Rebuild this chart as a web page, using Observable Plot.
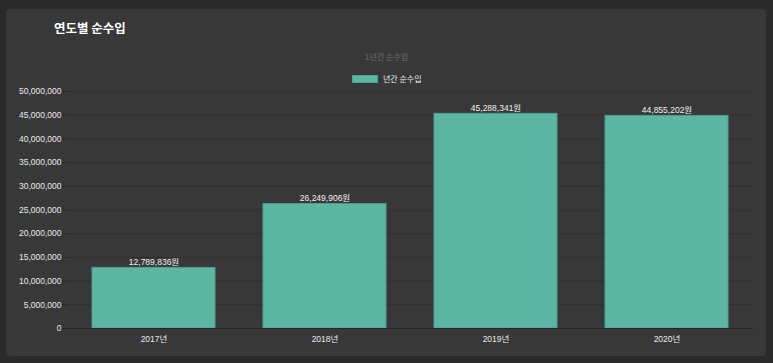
<!DOCTYPE html>
<html><head><meta charset="utf-8">
<script src="https://cdn.jsdelivr.net/npm/d3@7"></script>
<script src="https://cdn.jsdelivr.net/npm/@observablehq/plot@0.6"></script>
<style>
html,body{margin:0;padding:0;background:#2a2a2a;width:773px;height:363px;overflow:hidden;font-family:"Liberation Sans","Noto Sans CJK KR",sans-serif;}
#card{position:absolute;left:6px;top:9px;width:760px;height:347px;background:#383838;border-radius:4px;}
#title{position:absolute;left:54px;top:18px;color:#fff;font-size:12.5px;font-weight:bold;font-family:"Noto Sans CJK KR",sans-serif;}
#sub{position:absolute;left:0;width:773px;top:51px;text-align:center;color:#5e5e5e;font-size:8px;font-weight:bold;font-family:"Noto Sans CJK KR",sans-serif;}
#legend{position:absolute;left:352px;top:73px;display:flex;align-items:center;color:#eee;font-size:8px;font-family:"Noto Sans CJK KR",sans-serif;}
#legend .sw{width:26px;height:8px;background:#5db5a4;border:1px solid #4d9f90;margin-right:5px;box-sizing:border-box;}
#chart{position:absolute;left:0;top:0;}
</style></head>
<body>
<div id="card"></div>
<div id="title">연도별 순수입</div>
<div id="sub">1년간 순수입</div>
<div id="legend"><div class="sw"></div><span>년간 순수입</span></div>
<div id="chart"></div>
<script>
const years = ["2017년", "2018년", "2019년", "2020년"];
const income = [12789836, 26249906, 45288341, 44855202];
const yTicks = [0, 5000000, 10000000, 15000000, 20000000, 25000000, 30000000, 35000000, 40000000, 45000000, 50000000];
const seriesName = "년간 순수입";

const data = years.map((y, i) => ({year: y, value: income[i]}));
const fmt = d3.format(",");

function boundaryGrid(index, scales, values, dim, ctx) {
  const sx = scales.scales.x;
  const step = sx.step !== undefined ? sx.step : (scales.x(years[1]) - scales.x(years[0]));
  const bw = sx.bandwidth;
  const pos = years.map(d => scales.x(d) - (step - bw) / 2);
  pos.push(scales.x(years[years.length - 1]) + bw + (step - bw) / 2);
  const g = d3.create("svg:g");
  const y0 = scales.y(yTicks[yTicks.length - 1]);
  const y1 = scales.y(0) + 5;
  pos.forEach((x, i) => {
    g.append("line").attr("x1", x).attr("x2", x).attr("y1", y0).attr("y2", y1)
      .attr("stroke", i === 0 ? "#262626" : "#303030").attr("stroke-width", 1);
  });
  return g.node();
}

const plot = Plot.plot({
  width: 773,
  height: 363,
  marginLeft: 67,
  marginRight: 20,
  marginTop: 91,
  marginBottom: 35,
  style: {background: "transparent", color: "#e8e8e8", fontSize: "8.5px", fontFamily: "'Liberation Sans','Noto Sans CJK KR',sans-serif"},
  x: {domain: years, paddingInner: 0.28, paddingOuter: 0.14, label: null, axis: null},
  y: {domain: [0, 50000000], label: null, axis: null},
  marks: [
    Plot.ruleY(yTicks.slice(1), {stroke: "#303030", strokeWidth: 1}),
    Plot.axisY({ticks: yTicks, tickFormat: fmt, tickSize: 5, tickPadding: 1, stroke: "#262626", strokeOpacity: 1, fill: "#e8e8e8", label: null, fontSize: 8.5}),
    Plot.barY(data, {x: "year", y: "value", fill: "#5db5a4", stroke: "#4d9f90", strokeWidth: 1}),
    Plot.ruleY([0], {stroke: "#262626", strokeWidth: 1}),
    Plot.text(data, {x: "year", y: "value", text: d => fmt(d.value) + "원", dy: -6, fill: "#f0f0f0", fontSize: 8.5}),
    Plot.text(years, {x: d => d, frameAnchor: "bottom", dy: 13, fill: "#e8e8e8", fontSize: 8.5}),
    Plot.dot([0], {render: boundaryGrid})
  ]
});
document.getElementById("chart").appendChild(plot);
</script>
</body></html>
